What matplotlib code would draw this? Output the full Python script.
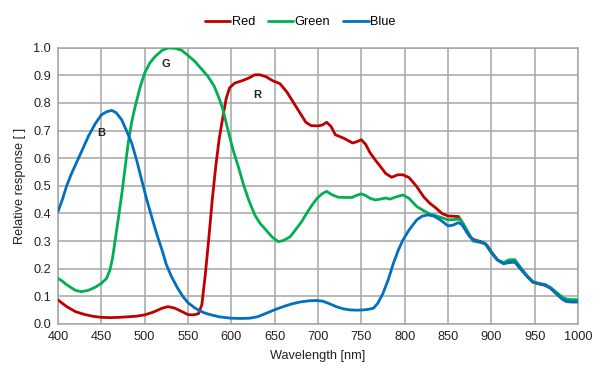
import matplotlib
matplotlib.use("Agg")
import matplotlib.pyplot as plt

plt.rcParams['font.family'] = ['Liberation Sans', 'DejaVu Sans']

red_wl = [400, 410, 420, 430, 440, 450, 460, 470, 480, 490, 500, 510, 520, 527, 535, 543, 550, 556, 562, 566,
          570, 574, 578, 582, 586, 590, 594, 598, 604, 612, 620, 627, 633, 640, 648, 656, 664, 672, 680, 686,
          692, 700, 705, 710, 715, 720, 730, 740, 745, 750, 755, 760, 766, 772, 778, 785, 792, 798, 805, 814,
          822, 829, 836, 843, 850, 856, 862, 868, 875, 880, 888, 895, 900, 907, 914, 920, 927, 935, 942, 948,
          955, 962, 968, 975, 982, 987, 994, 1000]
red_val = [0.087, 0.063, 0.045, 0.035, 0.028, 0.024, 0.023, 0.024, 0.026, 0.028, 0.033, 0.043, 0.057, 0.063,
           0.057, 0.045, 0.034, 0.033, 0.037, 0.07, 0.18, 0.31, 0.45, 0.57, 0.67, 0.745, 0.815, 0.855, 0.872,
           0.88, 0.89, 0.902, 0.902, 0.895, 0.88, 0.87, 0.84, 0.80, 0.76, 0.73, 0.718, 0.717, 0.72, 0.73, 0.715,
           0.685, 0.672, 0.655, 0.66, 0.667, 0.65, 0.62, 0.594, 0.57, 0.545, 0.531, 0.54, 0.54, 0.53, 0.497,
           0.46, 0.437, 0.42, 0.40, 0.391, 0.39, 0.389, 0.36, 0.316, 0.305, 0.298, 0.285, 0.26, 0.232, 0.22,
           0.224, 0.224, 0.195, 0.17, 0.151, 0.145, 0.14, 0.13, 0.11, 0.09, 0.081, 0.08, 0.08]

green_wl = [400, 405, 410, 420, 427, 435, 443, 450, 456, 460, 463, 466, 470, 474, 478, 481, 485, 489, 495, 500,
            506, 512, 520, 527, 535, 543, 550, 558, 565, 573, 580, 585, 590, 596, 602, 608, 614, 620, 627, 633,
            640, 647, 654, 660, 668, 675, 681, 687, 693, 699, 705, 710, 716, 723, 731, 739, 745, 750, 755, 760,
            766, 772, 778, 783, 790, 798, 805, 814, 822, 829, 838, 850, 857, 864, 870, 879, 886, 893, 900, 907,
            914, 920, 927, 935, 942, 948, 955, 962, 968, 975, 982, 987, 994, 1000]
green_val = [0.165, 0.155, 0.142, 0.122, 0.117, 0.122, 0.133, 0.147, 0.165, 0.196, 0.24, 0.304, 0.39, 0.48,
             0.58, 0.655, 0.73, 0.787, 0.86, 0.908, 0.945, 0.968, 0.99, 0.999, 0.998, 0.99, 0.972, 0.95, 0.925,
             0.896, 0.862, 0.824, 0.78, 0.703, 0.63, 0.57, 0.505, 0.449, 0.395, 0.365, 0.34, 0.315, 0.298, 0.302,
             0.316, 0.345, 0.37, 0.401, 0.43, 0.455, 0.472, 0.48, 0.468, 0.459, 0.458, 0.458, 0.466, 0.471, 0.465,
             0.455, 0.449, 0.452, 0.456, 0.452, 0.46, 0.467, 0.455, 0.425, 0.41, 0.398, 0.39, 0.377, 0.378, 0.38,
             0.35, 0.30, 0.296, 0.29, 0.258, 0.232, 0.222, 0.232, 0.233, 0.2, 0.172, 0.152, 0.147, 0.143, 0.133,
             0.115, 0.097, 0.09, 0.088, 0.088]

blue_wl = [400, 405, 410, 415, 420, 428, 435, 443, 450, 456, 462, 467, 473.5, 479, 485, 491, 496.5, 502, 508,
           514, 520, 525, 531, 538, 544, 550, 558, 564, 570, 578, 586, 594, 600, 610, 621, 630, 638, 645, 652,
           660, 670, 680, 690, 698, 705, 712, 721, 729, 737, 745, 752, 758, 764, 769, 775, 781, 787, 793, 798,
           805, 814, 820, 827, 834, 841, 846, 850, 856, 862, 866, 872, 879, 886, 893, 900, 907, 914, 920, 927,
           935, 942, 948, 955, 962, 968, 975, 982, 987, 994, 1000]
blue_val = [0.407, 0.45, 0.50, 0.54, 0.575, 0.63, 0.679, 0.725, 0.757, 0.768, 0.773, 0.765, 0.739, 0.70, 0.655,
            0.59, 0.522, 0.455, 0.389, 0.325, 0.268, 0.215, 0.171, 0.13, 0.10, 0.077, 0.058, 0.047, 0.039, 0.032,
            0.026, 0.023, 0.021, 0.02, 0.021, 0.026, 0.036, 0.045, 0.054, 0.063, 0.073, 0.08, 0.084, 0.085, 0.083,
            0.075, 0.063, 0.055, 0.051, 0.05, 0.051, 0.053, 0.057, 0.075, 0.111, 0.16, 0.22, 0.27, 0.304, 0.34,
            0.377, 0.39, 0.395, 0.39, 0.377, 0.365, 0.355, 0.358, 0.367, 0.36, 0.33, 0.304, 0.298, 0.292, 0.26,
            0.232, 0.218, 0.222, 0.226, 0.195, 0.17, 0.153, 0.146, 0.141, 0.13, 0.11, 0.09, 0.081, 0.08, 0.081]

series_names = ["Red", "Green", "Blue"]
series_colors = ["#C00000", "#00B050", "#0070C0"]
peak_labels = ["R", "G", "B"]
peak_pos = [(630, 0.83), (525, 0.94), (450, 0.69)]

x_ticks = list(range(400, 1001, 50))
y_ticks = [i / 10 for i in range(0, 11)]

fig = plt.figure(figsize=(6.0, 3.79), dpi=100)
ax = fig.add_axes([58 / 600, 1 - 324 / 379, 520 / 600, (324 - 47.7) / 379])

grid_c = "#a6a6a6"
for wl, val, name, c in zip([red_wl, green_wl, blue_wl], [red_val, green_val, blue_val],
                            series_names, series_colors):
    ax.plot(wl, val, color=c, lw=2.0, label=name, solid_capstyle='round',
            solid_joinstyle='round', zorder=3)

for lab, (px, py) in zip(peak_labels, peak_pos):
    ax.text(px, py, lab, fontsize=8, fontweight='bold', ha='center', va='center', color='#222222', zorder=4)

ax.set_xlim(400, 1000)
ax.set_ylim(0, 1.0)
ax.set_xticks(x_ticks)
ax.set_yticks(y_ticks)
ax.set_yticklabels([f"{v:.1f}" for v in y_ticks])
ax.grid(True, color=grid_c, lw=1.1, zorder=0)
for s in ax.spines.values():
    s.set_color(grid_c)
    s.set_linewidth(1.1)
ax.tick_params(length=0, labelsize=9.2, colors='#222222', pad=5)
ax.set_xlabel("Wavelength [nm]", fontsize=9.2, color='#222222', labelpad=5)
ax.set_ylabel("Relative response [ ]", fontsize=9.2, color='#222222', labelpad=5)

fig.legend(loc='center', bbox_to_anchor=(0.5, 1 - 22 / 379), ncol=3, frameon=False,
           fontsize=9.2, handlelength=2.0, handletextpad=0.1, columnspacing=1.0)

fig.savefig("out.png", dpi=100)
